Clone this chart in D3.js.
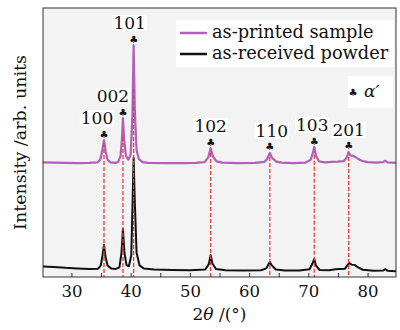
<!DOCTYPE html>
<html>
<head>
<meta charset="utf-8">
<script src="https://cdn.jsdelivr.net/npm/d3@7"></script>
<style>
	body { margin: 0; background: #fff; }
	svg { display: block; }
	text { font-family: "DejaVu Serif", serif; fill: #111; }
</style>
</head>
<body>
<div id="chart"></div>
<script>
// two theta / intensity (arb.)
const asPrinted = [
	[25.2, 42.6], [27, 42.5], [29, 42.4], [31, 42.3], [33, 42.4], [34.4, 42.6],
	[34.9, 43.8], [35.2, 47], [35.5, 50.9], [35.8, 46.5], [36.1, 43.6], [36.6, 42.6],
	[37.4, 42.4], [37.9, 42.8], [38.3, 45], [38.55, 52], [38.7, 59.1], [38.9, 51],
	[39.2, 45], [39.6, 43.6], [40.0, 45.5], [40.3, 60], [40.5, 86.2], [40.7, 62],
	[41.0, 47], [41.4, 43.8], [42.0, 42.7], [43, 42.4], [46, 42.3], [49, 42.3],
	[51, 42.4], [52.5, 42.7], [53.1, 44.5], [53.5, 47.9], [53.9, 44.8], [54.5, 43],
	[55.5, 42.5], [58, 42.3], [61, 42.4], [62.6, 42.8], [63.1, 44], [63.5, 46.1],
	[63.9, 44.2], [64.6, 42.9], [65.5, 42.5], [67.5, 42.3], [69.5, 42.5], [70.4, 43.6],
	[70.75, 46], [71.0, 48.3], [71.3, 45], [71.8, 43], [72.8, 42.6], [74, 42.8],
	[75, 42.9], [76, 43.1], [76.5, 44.5], [76.8, 46.5], [77.1, 45.2], [77.6, 45.0],
	[78.2, 44.2], [79, 43.2], [80, 42.7], [81.5, 42.5], [82.6, 42.7], [83.0, 43.2],
	[83.4, 42.6], [84.8, 42.4]
]

const asReceived = [
	[25.2, 3.9], [27, 3.7], [29, 3.4], [31, 3.2], [33, 3.0], [34.5, 3.1],
	[34.95, 4.2], [35.25, 8], [35.5, 11.9], [35.75, 7.5], [36.1, 4.3], [36.7, 3.2],
	[37.5, 3.0], [38.1, 3.6], [38.45, 9], [38.7, 17.8], [38.95, 9], [39.3, 4.4],
	[39.7, 4.0], [40.1, 8], [40.35, 30], [40.5, 44.2], [40.7, 28], [41.0, 9],
	[41.5, 4.3], [42.2, 3.2], [44, 2.8], [47, 2.6], [50, 2.5], [52.6, 2.8],
	[53.2, 4.8], [53.5, 8.2], [53.8, 5], [54.4, 3.0], [56, 2.5], [59, 2.4],
	[62, 2.5], [62.9, 3.2], [63.3, 4.8], [63.5, 5.6], [63.8, 4.4], [64.5, 2.8],
	[66, 2.4], [68.5, 2.4], [70.2, 2.9], [70.7, 5], [71.0, 6.7], [71.3, 4.2],
	[71.9, 2.6], [73.5, 2.5], [74.6, 2.9], [75.2, 3.0], [76.2, 3.1], [76.6, 4.4],
	[76.9, 5.2], [77.3, 4.6], [77.8, 4.5], [78.4, 3.6], [79.2, 2.7], [81, 2.3],
	[82.6, 2.4], [83.0, 2.9], [83.4, 2.3], [84.8, 2.1]
]

// alpha' reflections
const hkl = ["100", "002", "101", "102", "110", "103", "201"]
const peakPos = [35.5, 38.7, 40.5, 53.5, 63.5, 71.0, 76.8]
const peakTop = [50.9, 59.1, 86.2, 47.9, 46.1, 48.3, 46.5]
const refTop = [49.8, 52.0, 69.9, 46.1, 44.6, 45.4, 44.6]
const labelShift = [-7, -10, -4, 0, 2, -2, 0]

const xTicks = [30, 35, 40, 45, 50, 55, 60, 65, 70, 75, 80]
const seriesNames = ["as-printed sample", "as-received powder"]
const seriesColors = ["#b060b8", "#111111"]

const width = 400, height = 330
const margin = { top: 8, right: 4, bottom: 53, left: 43 }

const svg = d3.select("#chart").append("svg")
	.attr("width", width)
	.attr("height", height)

const x = d3.scaleLinear().domain([25.2, 84.8]).range([margin.left, width - margin.right])
const y = d3.scaleLinear().domain([0, 100]).range([height - margin.bottom, margin.top])

// plot background
svg.append("rect")
	.attr("x", x.range()[0]).attr("y", margin.top)
	.attr("width", x.range()[1] - x.range()[0])
	.attr("height", y.range()[0] - margin.top)
	.attr("fill", "#f3f3f3")

const line = d3.line()
	.x(d => x(d[0]))
	.y(d => y(d[1]))

svg.append("path")
	.datum(asReceived)
	.attr("fill", "none")
	.attr("stroke", seriesColors[1])
	.attr("stroke-width", 2)
	.attr("stroke-linejoin", "round")
	.attr("d", line)

svg.append("path")
	.datum(asPrinted)
	.attr("fill", "none")
	.attr("stroke", seriesColors[0])
	.attr("stroke-width", 2.2)
	.attr("stroke-linejoin", "round")
	.attr("d", line)

// red reference lines
svg.selectAll(".ref")
	.data(peakPos)
	.enter().append("line")
	.attr("class", "ref")
	.attr("x1", d => x(d)).attr("x2", d => x(d))
	.attr("y1", (d, i) => y(refTop[i]))
	.attr("y2", y(0))
	.attr("stroke", "#f23a3a")
	.attr("stroke-width", 1.3)
	.attr("stroke-dasharray", "4,2")

// peak labels
const lab = svg.selectAll(".peak")
	.data(hkl)
	.enter().append("g")
	.attr("class", "peak")

lab.each(function (d, i) {
	let g = d3.select(this)
	let px = x(peakPos[i])
	let clubY = y(peakTop[i]) - 6
	let t = g.append("text")
		.attr("x", px + labelShift[i])
		.attr("y", clubY - 10)
		.attr("text-anchor", "middle")
		.attr("font-size", 17)
		.text(d)
	let bb = t.node().getBBox()
	g.insert("rect", "text")
		.attr("x", bb.x - 1).attr("y", bb.y + 2)
		.attr("width", bb.width + 2).attr("height", bb.height - 4)
		.attr("fill", "#fff")
	g.append("text")
		.attr("x", px)
		.attr("y", clubY)
		.attr("dy", "0.35em")
		.attr("text-anchor", "middle")
		.attr("font-family", "DejaVu Sans")
		.attr("font-size", 10)
		.text("\u2663")
})

// frame
svg.append("rect")
	.attr("x", x.range()[0]).attr("y", margin.top)
	.attr("width", x.range()[1] - x.range()[0])
	.attr("height", y.range()[0] - margin.top)
	.attr("fill", "none")
	.attr("stroke", "#333")
	.attr("stroke-width", 1)

// x axis, ticks inside
const xAxis = svg.append("g")
	.attr("transform", "translate(0," + y(0) + ")")
	.call(d3.axisBottom(x)
		.tickValues(xTicks)
		.tickSize(-4)
		.tickPadding(8)
		.tickFormat(d => d % 10 === 0 ? d : ""))
xAxis.select(".domain").remove()
xAxis.selectAll("line").attr("stroke", "#333")
xAxis.selectAll("text")
	.attr("font-family", "DejaVu Serif")
	.attr("font-size", 16.5)
	.attr("fill", "#111")

// axis titles
const xt = svg.append("text")
	.attr("x", (x.range()[0] + x.range()[1]) / 2)
	.attr("y", 320)
	.attr("text-anchor", "middle")
	.attr("font-size", 17)
xt.append("tspan").text("2")
xt.append("tspan").attr("font-style", "italic").text("\u03b8")
xt.append("tspan").text(" /(\u00b0)")

svg.append("text")
	.attr("transform", "translate(26," + (y.range()[0] + margin.top) / 2 + ") rotate(-90)")
	.attr("text-anchor", "middle")
	.attr("font-size", 17.5)
	.text("Intensity /arb. units")

// legend
const leg = svg.append("g")
leg.append("rect")
	.attr("x", 176).attr("y", 20).attr("width", 218).attr("height", 47)
	.attr("fill", "#fff")
seriesNames.forEach(function (name, i) {
	let ly = 33 + i * 21
	leg.append("line")
		.attr("x1", 180).attr("x2", 207)
		.attr("y1", ly).attr("y2", ly)
		.attr("stroke", seriesColors[i])
		.attr("stroke-width", 2.5)
	leg.append("text")
		.attr("x", 212).attr("y", ly + 5)
		.attr("font-size", 17.8)
		.text(name)
})

// alpha' marker key
leg.append("rect")
	.attr("x", 348).attr("y", 76).attr("width", 45).attr("height", 32)
	.attr("fill", "#fff")
leg.append("text")
	.attr("x", 353).attr("y", 92)
	.attr("dy", "0.35em")
	.attr("text-anchor", "middle")
	.attr("font-family", "DejaVu Sans")
	.attr("font-size", 10)
	.text("\u2663")
leg.append("text")
	.attr("x", 364).attr("y", 97)
	.attr("font-size", 17)
	.attr("font-style", "italic")
	.text("\u03b1\u2032")
</script>
</body>
</html>
